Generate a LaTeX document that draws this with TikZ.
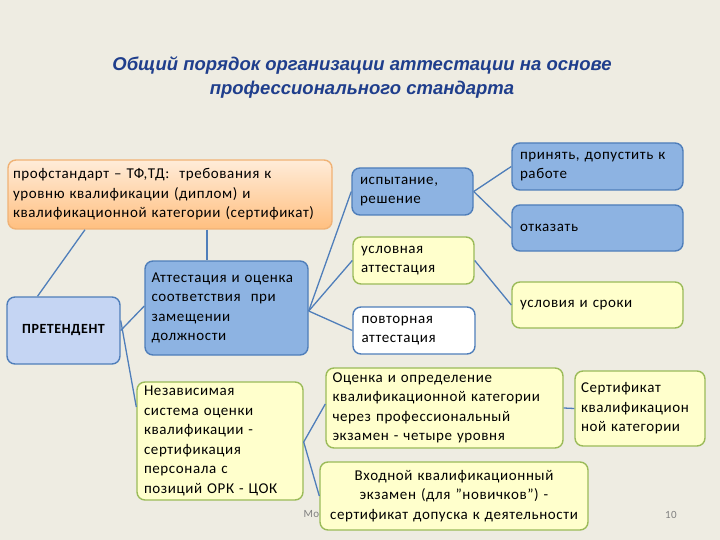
\documentclass[tikz,border=0pt]{standalone}
\usepackage{fontspec}
\setmainfont{Carlito}[LetterSpace=4]
\newfontfamily\titlefont{Liberation Sans}
\begin{document}
\begin{tikzpicture}[x=1pt,y=-1pt,
  bx/.style={draw, line width=1.4pt, rounded corners=8pt, inner sep=0pt, font=\fontsize{15}{19.5}\selectfont, align=left},
  blue/.style={bx, fill=bluefill, draw=blueline},
  yel/.style={bx, fill=yelfill, draw=yelline},
  ln/.style={draw=blueline, line width=1.3pt}]
\definecolor{bg}{HTML}{EEECE2}
\definecolor{bluefill}{HTML}{8DB3E2}
\definecolor{blueline}{HTML}{4F7EBA}
\definecolor{yelfill}{HTML}{FFFFCC}
\definecolor{yelline}{HTML}{9BBB59}
\definecolor{titlec}{HTML}{1F3E8C}
\fill[bg] (0,0) rectangle (720,540);
\useasboundingbox (0,0) rectangle (720,540);
\node[font=\titlefont\bfseries\itshape\fontsize{18.5}{24}\selectfont, text=titlec, align=center] (title) at (362,77) {Общий порядок организации аттестации на основе\\профессионального стандарта};
\node[font=\fontsize{11}{12}\selectfont, text=gray, anchor=west] (foot) at (300,515) {Москва, 14 апреля 2016};
\node[font=\fontsize{11}{12}\selectfont, text=gray] (page) at (671,515) {10};
% boxes
\node[bx, draw=orange!60!brown!60, top color=orange!15, bottom color=orange!50, minimum width=324, minimum height=69, text width=314] (prof) at (170,194.5) {профстандарт – ТФ,ТД:\ \ требования к\\уровню квалификации (диплом) и\\квалификационной категории (сертификат)};
\node[bx, fill=blue!10!bluefill!45, draw=blueline, minimum width=113, minimum height=67, align=center, font=\bfseries\fontsize{14}{16}\selectfont] (pret) at (63.5,330.5) {ПРЕТЕНДЕНТ};
\node[blue, minimum width=163, minimum height=94, text width=150] (att) at (226.5,308) {Аттестация и оценка\\соответствия\ \ при\\замещении\\должности};
\node[yel, minimum width=166, minimum height=118, text width=152] (nez) at (220,441) {Независимая\\система оценки\\квалификации -\\сертификация\\персонала с\\позиций ОРК - ЦОК};
\node[blue, minimum width=121, minimum height=47, text width=105] (isp) at (412.5,191.5) {испытание,\\решение};
\node[blue, minimum width=171, minimum height=47, text width=155] (prin) at (597.5,166.5) {принять, допустить к\\работе};
\node[blue, minimum width=171, minimum height=46, text width=155] (otk) at (597.5,228) {отказать};
\node[yel, minimum width=121, minimum height=47, text width=105] (usl) at (413.5,260.5) {условная\\аттестация};
\node[yel, minimum width=171, minimum height=46, text width=155] (sroki) at (597.5,305) {условия и сроки};
\node[bx, fill=white, draw=blueline, minimum width=122, minimum height=47, text width=105] (pov) at (414,330.5) {повторная\\аттестация};
\node[yel, minimum width=237, minimum height=80, text width=224] (oc) at (444.5,408) {Оценка и определение\\квалификационной категории\\через профессиональный\\экзамен - четыре уровня};
\node[yel, minimum width=130, minimum height=75, text width=118] (sert) at (640,408.5) {Сертификат\\квалификацион\\ной категории};
\node[yel, minimum width=268, minimum height=68, text width=264, align=center] (vh) at (454,496) {Входной квалификационный\\экзамен (для "новичков") -\\сертификат допуска к деятельности};
% connectors
\draw[ln] ([xshift=-85]prof.south) -- ([xshift=-26]pret.north);
\draw[ln] ([xshift=37]prof.south) -- (att.north -| {(207,0)});
\draw[ln] (pret.east) -- ([yshift=2]att.west);
\draw[ln] ([yshift=10]pret.east) -- ([yshift=34]nez.west);
\draw[ln] ([yshift=-3]att.east) -- (isp.west);
\draw[ln] ([yshift=-3]att.east) -- (usl.west);
\draw[ln] ([yshift=-3]att.east) -- (pov.west);
\draw[ln] (isp.east) -- (prin.west);
\draw[ln] (isp.east) -- (otk.west);
\draw[ln] (usl.east) -- (sroki.west);
\draw[ln] ([yshift=-1]nez.east) -- ([yshift=4]oc.west);
\draw[ln] ([yshift=-1]nez.east) -- (vh.west);
\draw[ln] (oc.east) -- (sert.west);
\end{tikzpicture}
\end{document}
